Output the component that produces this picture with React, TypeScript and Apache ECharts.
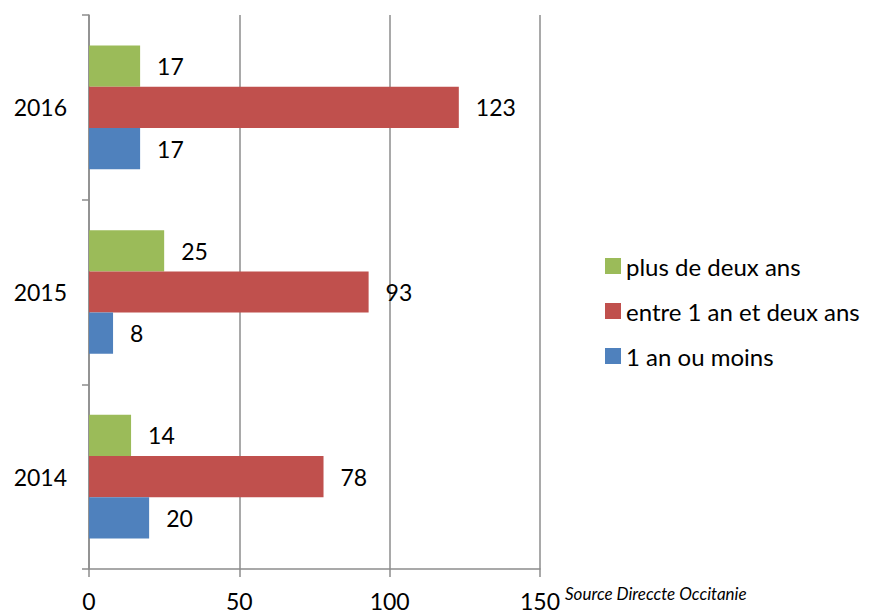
import React, { useEffect, useRef } from "react";
import * as echarts from "echarts";

const categories = ["2014", "2015", "2016"];
const seriesNames = ["plus de deux ans", "entre 1 an et deux ans", "1 an ou moins"];
const valuesLong = [14, 25, 17];
const valuesMid = [78, 93, 123];
const valuesShort = [20, 8, 17];
const xTicks = [0, 50, 100, 150];
const sourceText = "Source Direccte Occitanie";

const colors = ["#9BBB59", "#C0504D", "#4F81BD"];
const FONT = "Lato, 'Open Sans', sans-serif";
const AXIS_COLOR = "#8C8C8C";

export default function App() {
  const ref = useRef<HTMLDivElement>(null);
  useEffect(() => {
    document.body.style.margin = "0";
    if (!ref.current) return;
    const chart = echarts.init(ref.current, null, { renderer: "svg" });
    const allValues = [valuesLong, valuesMid, valuesShort];
    chart.setOption({
      animation: false,
      backgroundColor: "#ffffff",
      textStyle: { fontFamily: FONT },
      grid: { left: 89, right: 329, top: 15, bottom: 45, containLabel: false },
      legend: {
        orient: "vertical",
        left: 600,
        top: 249,
        itemWidth: 16,
        itemHeight: 16,
        itemGap: 21,
        icon: "rect",
        data: [seriesNames[0], seriesNames[1], seriesNames[2]],
        textStyle: { fontFamily: FONT, fontSize: 24, color: "#000" },
      },
      xAxis: {
        type: "value",
        min: xTicks[0],
        max: xTicks[xTicks.length - 1],
        interval: 50,
        axisLine: { show: true, lineStyle: { color: AXIS_COLOR, width: 1.5 } },
        axisTick: { show: true, length: 8, lineStyle: { color: AXIS_COLOR, width: 1.5 } },
        splitLine: { show: true, lineStyle: { color: AXIS_COLOR, width: 1.5 } },
        axisLabel: { fontFamily: FONT, fontSize: 23, color: "#000", margin: 20, lineHeight: 23 },
      },
      yAxis: {
        type: "category",
        data: categories,
        axisLine: { show: true, lineStyle: { color: AXIS_COLOR, width: 1.5 } },
        axisTick: { show: true, length: 7, lineStyle: { color: AXIS_COLOR, width: 1.5 } },
        axisLabel: { fontFamily: FONT, fontSize: 23, color: "#000", margin: 22 },
      },
      series: seriesNames.map((name, i) => ({
        name,
        type: "bar",
        data: allValues[i],
        barGap: "0%",
        barCategoryGap: "33%",
        itemStyle: { color: colors[i] },
        label: {
          show: true,
          position: "right",
          distance: 17,
          fontFamily: FONT,
          fontSize: 23,
          color: "#000",
        },
      })),
      graphic: [
        {
          type: "text",
          left: 565,
          top: 585,
          style: {
            text: sourceText,
            fontFamily: FONT,
            fontSize: 17,
            fontStyle: "italic",
            fill: "#000",
          },
        },
      ],
    });
    return () => chart.dispose();
  }, []);
  return <div ref={ref} style={{ width: 869, height: 614 }} />;
}
